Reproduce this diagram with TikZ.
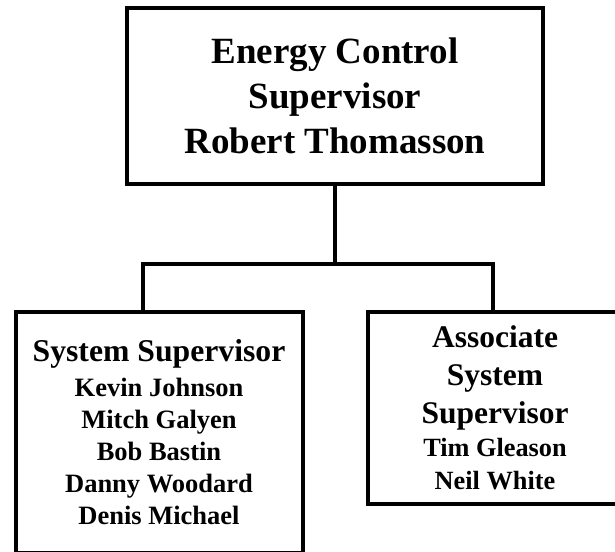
\documentclass[tikz,border=0pt]{standalone}
\usepackage{fontspec}
\setmainfont{Liberation Serif}

\begin{document}
\begin{tikzpicture}[x=1pt,y=-1pt,
    box/.style={draw, line width=4pt, align=center, inner sep=0pt},
    link/.style={line width=4pt}]

    \useasboundingbox (0,0) rectangle (615,551);
    \clip (0,0) rectangle (615,551);

    \node[box, minimum width=416, minimum height=176, font=\fontsize{37}{45}\selectfont\bfseries] (ecs) at (335,96) {Energy Control\\ Supervisor\\ Robert Thomasson};
    \node[box, minimum width=287, minimum height=241, font=\fontsize{26.5}{32}\selectfont\bfseries] (sys) at (159,432.5) {{\fontsize{31.7}{32}\selectfont System Supervisor}\\[3pt] Kevin Johnson\\ Mitch Galyen\\ Bob Bastin\\ Danny Woodard\\ Denis Michael};
    \node[box, minimum width=254, minimum height=192, font=\fontsize{26.3}{33}\selectfont\bfseries] (asys) at (495,408) {{\fontsize{31.5}{33}\selectfont Associate}\\[5pt] {\fontsize{31.5}{33}\selectfont System}\\[5pt] {\fontsize{31.5}{33}\selectfont Supervisor}\\ Tim Gleason\\ Neil White};

    \coordinate (lbend) at (143,264);
    \coordinate (rbend) at (493,264);
    \draw[link] (ecs.south) -- (ecs.south |- lbend);
    \draw[link] (sys.north -| lbend) -- (lbend) -- (rbend) -- (asys.north -| rbend);

\end{tikzpicture}
\end{document}
